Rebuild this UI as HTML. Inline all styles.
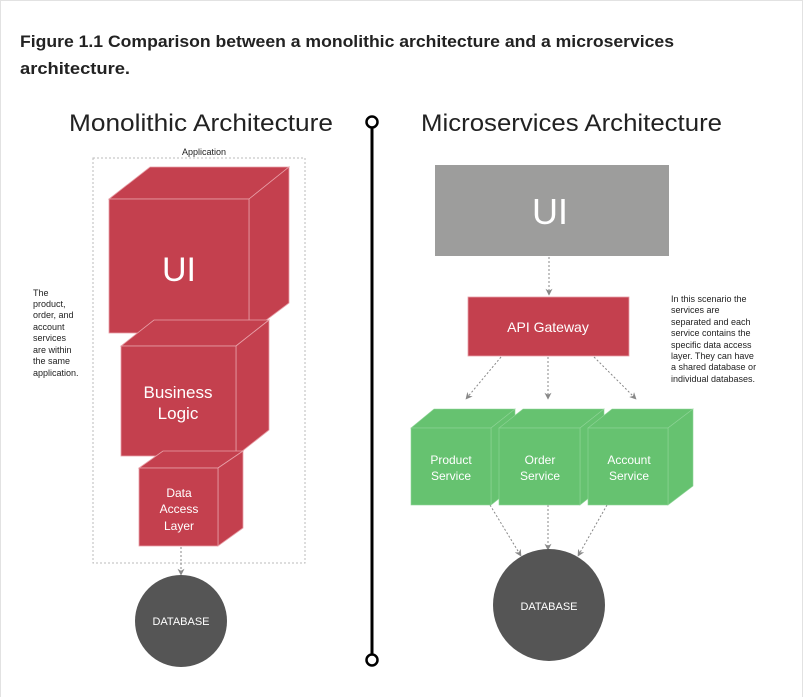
<!DOCTYPE html>
<html><head><meta charset="utf-8"><style>html,body{margin:0;padding:0;background:#fff}svg{display:block}</style></head>
<body>
<svg width="803" height="697" viewBox="0 0 803 697" xmlns="http://www.w3.org/2000/svg" font-family="Liberation Sans, sans-serif">
<defs>
<marker id="ah" viewBox="0 0 10 10" refX="9" refY="5" markerWidth="7" markerHeight="7" orient="auto"><path d="M0,0 L10,5 L0,10 L3,5 z" fill="#888"/></marker>
</defs>
<rect x="0.5" y="0.5" width="802" height="700" fill="#fff" stroke="#e2e2e2"/>
<text x="20" y="47" font-size="17" font-weight="bold" fill="#222" textLength="654" lengthAdjust="spacingAndGlyphs">Figure 1.1 Comparison between a monolithic architecture and a microservices</text>
<text x="20" y="74" font-size="17" font-weight="bold" fill="#222" textLength="110" lengthAdjust="spacingAndGlyphs">architecture.</text>
<text x="69" y="131" font-size="24" fill="#222" textLength="264" lengthAdjust="spacingAndGlyphs">Monolithic Architecture</text>
<text x="421" y="131" font-size="24" fill="#222" textLength="301" lengthAdjust="spacingAndGlyphs">Microservices Architecture</text>
<!-- divider -->
<line x1="372" y1="128" x2="372" y2="654" stroke="#000" stroke-width="3"/>
<circle cx="372" cy="122" r="5.5" fill="#fff" stroke="#000" stroke-width="2.5"/>
<circle cx="372" cy="660" r="5.5" fill="#fff" stroke="#000" stroke-width="2.5"/>
<!-- application box -->
<rect x="93" y="158" width="212" height="405" fill="none" stroke="#bbb" stroke-dasharray="2,2"/>
<text x="204" y="155" font-size="9" fill="#222" text-anchor="middle">Application</text>
<g font-size="9" fill="#222">
<text x="33" y="296">The</text><text x="33" y="307">product,</text><text x="33" y="318">order, and</text><text x="33" y="330">account</text><text x="33" y="341">services</text><text x="33" y="353">are within</text><text x="33" y="364">the same</text><text x="33" y="376">application.</text>
</g>
<!-- UI cube -->
<g fill="#c4404e" stroke="#e8a0a8" stroke-width="0.8">
<polygon points="109,199 150,167 289,167 249,199"/>
<polygon points="249,199 289,167 289,303 249,333"/>
<rect x="109" y="199" width="140" height="134"/>
<polygon points="121,346 154,320 269,320 236,346"/>
<polygon points="236,346 269,320 269,430 236,456"/>
<rect x="121" y="346" width="115" height="110"/>
<polygon points="139,468 163,451 243,451 218,468"/>
<polygon points="218,468 243,451 243,528 218,546"/>
<rect x="139" y="468" width="79" height="78"/>
</g>
<text x="179" y="281" font-size="34" fill="#fff" text-anchor="middle">UI</text>
<text x="178" y="398" font-size="17" fill="#fff" text-anchor="middle">Business</text>
<text x="178" y="419" font-size="17" fill="#fff" text-anchor="middle">Logic</text>
<g font-size="12" fill="#fff" text-anchor="middle"><text x="179" y="497">Data</text><text x="179" y="513">Access</text><text x="179" y="530">Layer</text></g>
<line x1="181" y1="547" x2="181" y2="575" stroke="#888" stroke-dasharray="2,2" marker-end="url(#ah)"/>
<circle cx="181" cy="621" r="46" fill="#555"/>
<text x="181" y="625" font-size="11" fill="#fff" text-anchor="middle">DATABASE</text>
<!-- right -->
<rect x="435" y="165" width="234" height="91" fill="#9d9d9c"/>
<text x="550" y="224" font-size="36" fill="#fff" text-anchor="middle">UI</text>
<line x1="549" y1="257" x2="549" y2="295" stroke="#888" stroke-dasharray="2,2" marker-end="url(#ah)"/>
<rect x="468" y="297" width="161" height="59" fill="#c4404e" stroke="#e8a0a8" stroke-width="0.8"/>
<text x="548" y="332" font-size="14" fill="#fff" text-anchor="middle">API Gateway</text>
<g font-size="9" fill="#222">
<text x="671" y="302">In this scenario the</text><text x="671" y="313">services are</text><text x="671" y="325">separated and each</text><text x="671" y="336">service contains the</text><text x="671" y="348">specific data access</text><text x="671" y="359">layer. They can have</text><text x="671" y="370">a shared database or</text><text x="671" y="382">individual databases.</text>
</g>
<g stroke="#888" stroke-dasharray="2,2" marker-end="url(#ah)">
<line x1="501" y1="357" x2="466" y2="399"/>
<line x1="548" y1="357" x2="548" y2="399"/>
<line x1="594" y1="357" x2="636" y2="399"/>
<line x1="490" y1="505" x2="521" y2="556"/>
<line x1="548" y1="505" x2="548" y2="550"/>
<line x1="607" y1="505" x2="578" y2="556"/>
</g>
<g fill="#66c270" stroke="#8fd497" stroke-width="0.6">
<polygon points="411,428 434,409 515,409 491,428"/><polygon points="491,428 515,409 515,486 491,505"/><rect x="411" y="428" width="80" height="77"/>
<polygon points="499,428 523,409 604,409 580,428"/><polygon points="580,428 604,409 604,486 580,505"/><rect x="499" y="428" width="81" height="77"/>
<polygon points="588,428 612,409 693,409 668,428"/><polygon points="668,428 693,409 693,486 668,505"/><rect x="588" y="428" width="80" height="77"/>
</g>
<g font-size="12" fill="#fff" text-anchor="middle">
<text x="451" y="464">Product</text><text x="451" y="480">Service</text>
<text x="540" y="464">Order</text><text x="540" y="480">Service</text>
<text x="629" y="464">Account</text><text x="629" y="480">Service</text>
</g>
<circle cx="549" cy="605" r="56" fill="#555"/>
<text x="549" y="610" font-size="11" fill="#fff" text-anchor="middle">DATABASE</text>
</svg>
</body></html>
